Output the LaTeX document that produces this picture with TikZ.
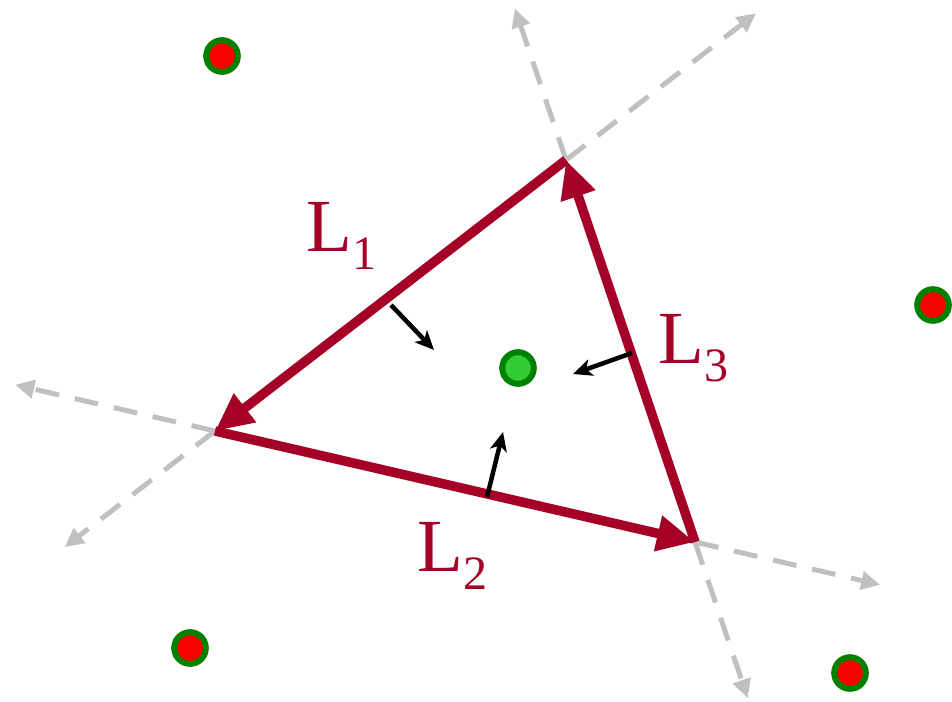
\documentclass[tikz,border=0pt]{standalone}
\usepackage{fontspec}
\setmainfont{Liberation Serif}
\usetikzlibrary{arrows.meta,calc}
\definecolor{edgered}{HTML}{A50026}
\definecolor{dashgray}{HTML}{C0C0C0}
\definecolor{ptgreen}{HTML}{008000}
\definecolor{ptlight}{HTML}{33CC33}
\tikzset{
  edge/.style={draw=edgered,line width=9.5pt,-{Triangle[length=38pt,width=34pt]}},
  ext/.style={draw=dashgray,line width=5pt,dash pattern=on 24pt off 16pt,-{Triangle[length=19pt,width=18pt]}},
  normal/.style={draw=black,line width=4.5pt,-{Stealth[length=19pt,width=17pt,inset=5pt]}},
  outpt/.style={circle,draw=ptgreen,fill=red,line width=6pt,minimum size=31.6pt,inner sep=0pt},
  inpt/.style={circle,draw=ptgreen,fill=ptlight,line width=6pt,minimum size=31.6pt,inner sep=0pt},
  lab/.style={text=edgered,anchor=base west,inner sep=0pt,font=\fontsize{75}{75}\selectfont}
}
\newcommand{\subl}[1]{\raisebox{-18pt}{\fontsize{48}{48}\selectfont #1}}
\begin{document}
\begin{tikzpicture}[x=1pt,y=-1pt]
\useasboundingbox (0,0) rectangle (952,701);
\coordinate (A) at (566,160);
\coordinate (B) at (215,431);
\coordinate (C) at (695,542);
% extensions
\coordinate (A1) at ($(A)!-240pt!(B)$);
\coordinate (B1) at ($(B)!-190pt!(A)$);
\coordinate (B2) at ($(B)!-205pt!(C)$);
\coordinate (C2) at ($(C)!-190pt!(B)$);
\coordinate (A3) at ($(A)!-160pt!(C)$);
\coordinate (C3) at ($(C)!-165pt!(A)$);
\draw[ext] (A) -- (A1);
\draw[ext] (B) -- (B1);
\draw[ext] (B) -- (B2);
\draw[ext] (C) -- (C2);
\draw[ext] (A) -- (A3);
\draw[ext] (C) -- (C3);
% edges
\draw[edge] (A) -- (B);
\draw[edge] (B) -- (C);
\draw[edge] (C) -- (A);
% normals
\coordinate (n1s) at (391,305);
\coordinate (n1e) at (434,350);
\coordinate (n2s) at (632,353);
\coordinate (n2e) at (573,374);
\coordinate (n3s) at (487,497);
\coordinate (n3e) at (503,432);
\draw[normal] (n1s) -- (n1e);
\draw[normal] (n2s) -- (n2e);
\draw[normal] (n3s) -- (n3e);
% points
\node[outpt] (p1) at (222,56) {};
\node[outpt] (p2) at (933,305) {};
\node[outpt] (p3) at (190,648) {};
\node[outpt] (p4) at (850,673) {};
\node[inpt] (c) at (518,368) {};
% labels
\node[lab] (l1) at (306,251) {L\subl{1}};
\node[lab] (l2) at (417,571) {L\subl{2}};
\node[lab] (l3) at (658,363) {L\subl{3}};
\end{tikzpicture}
\end{document}
